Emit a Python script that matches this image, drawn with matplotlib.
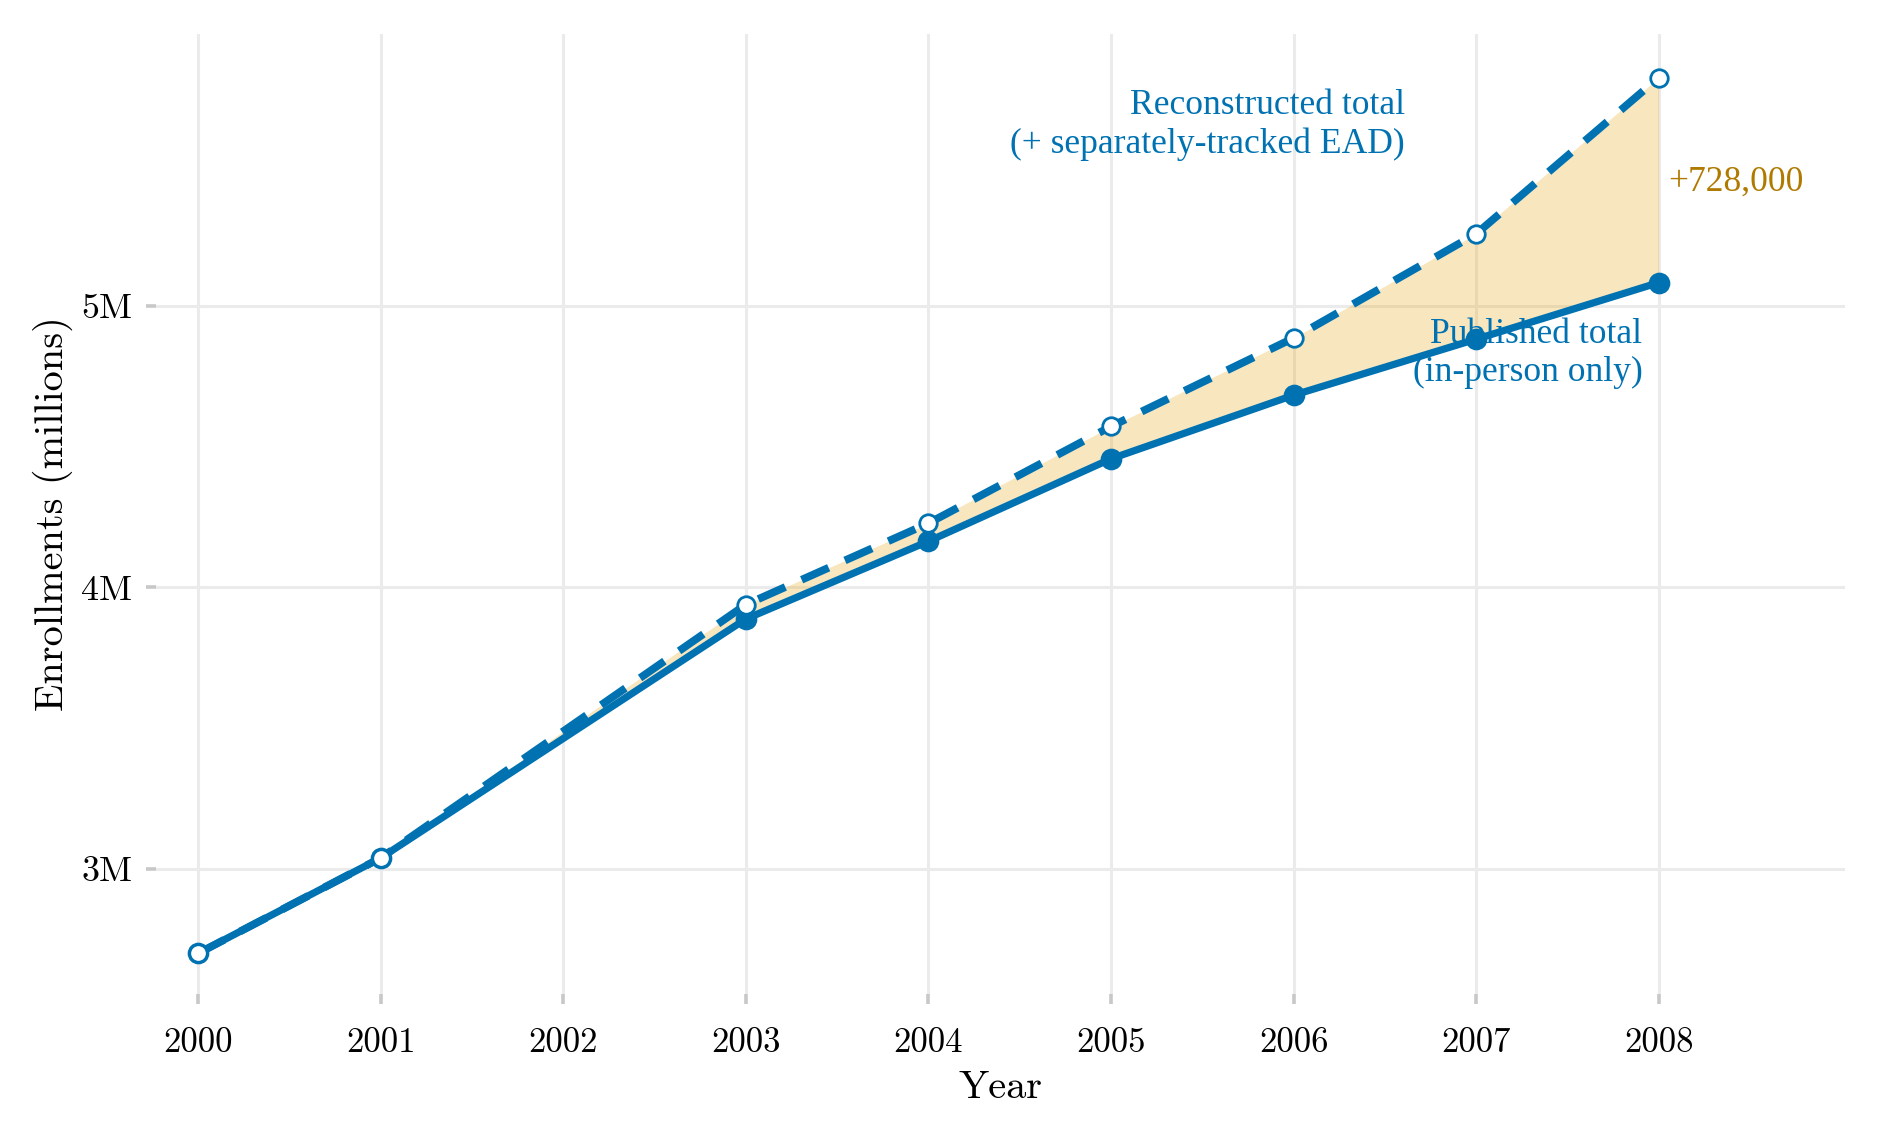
import matplotlib
matplotlib.use("Agg")
import matplotlib.pyplot as plt
from matplotlib.ticker import FixedLocator

years = [2000, 2001, 2003, 2004, 2005, 2006, 2007, 2008]
published = [2.699, 3.038, 3.887, 4.163, 4.456, 4.682, 4.881, 5.082]
reconstructed = [2.699, 3.038, 3.938, 4.227, 4.571, 4.885, 5.255, 5.810]
x_ticks = [2000, 2001, 2002, 2003, 2004, 2005, 2006, 2007, 2008]
x_tick_labels = [str(y) for y in x_ticks]
y_ticks = [3, 4, 5]
y_tick_labels = ["3M", "4M", "5M"]
gap_label = "+728,000"
recon_label = "Reconstructed total\n(+ separately-tracked EAD)"
pub_label = "Published total\n(in-person only)"

BLUE = "#0072B2"
FILL = "#E69F00"
GOLD = "#B07A00"

plt.rcParams['axes.formatter.use_mathtext'] = True
fig = plt.figure(figsize=(1879/200, 1138/200), dpi=200)
ax = fig.add_axes([156/1879, 1-994/1138, 1689/1879, 960/1138])

ax.fill_between(years, published, reconstructed, color=FILL, alpha=0.25, linewidth=0, zorder=2)
ax.plot(years, published, color=BLUE, lw=2.6, zorder=3, solid_capstyle='butt')
ax.plot(years, published, 'o', color=BLUE, ms=6.8, zorder=4)
ax.plot(years, reconstructed, color=BLUE, lw=2.8, dashes=(3.8, 2.3), zorder=5)
ax.plot(years, reconstructed, 'o', mfc='white', mec=BLUE, mew=1.0, ms=6.3, zorder=6)

ax.set_xlim(1999.77, 2009.02)
ax.set_ylim(2.555, 5.965)

ax.xaxis.set_major_locator(FixedLocator(x_ticks))
ax.set_xticklabels(x_tick_labels)
ax.yaxis.set_major_locator(FixedLocator(y_ticks))
ax.set_yticklabels(y_tick_labels)

for s in ax.spines.values():
    s.set_visible(False)
ax.grid(True, color="#ebebeb", lw=1.1, zorder=0)
ax.set_axisbelow(True)
ax.tick_params(axis='both', length=3.6, width=1.3, color="#c8c8c8")
ax.tick_params(axis='x', pad=8.5, labelsize=12.5)
ax.tick_params(axis='y', pad=5, labelsize=13)
for lab in ax.get_xticklabels() + ax.get_yticklabels():
    lab.set_fontfamily('cmr10')

ax.set_xlabel("Year", fontfamily='cmr10', fontsize=14.5, labelpad=3.8)
ax.set_ylabel("Enrollments (millions)", fontfamily='cmr10', fontsize=14.5, labelpad=3)

ax.text(2006.61, 5.642, recon_label, ha='right', va='center', color=BLUE,
        fontfamily='Liberation Serif', fontsize=12.8, linespacing=1.22, zorder=7)
ax.text(2007.91, 4.830, pub_label, ha='right', va='center', color=BLUE,
        fontfamily='Liberation Serif', fontsize=12.8, linespacing=1.22, zorder=7)
ax.text(2008.05, 5.44, gap_label, ha='left', va='center', color=GOLD,
        fontfamily='Liberation Serif', fontsize=12.8, zorder=7)

fig.savefig("out.png", dpi=200)
